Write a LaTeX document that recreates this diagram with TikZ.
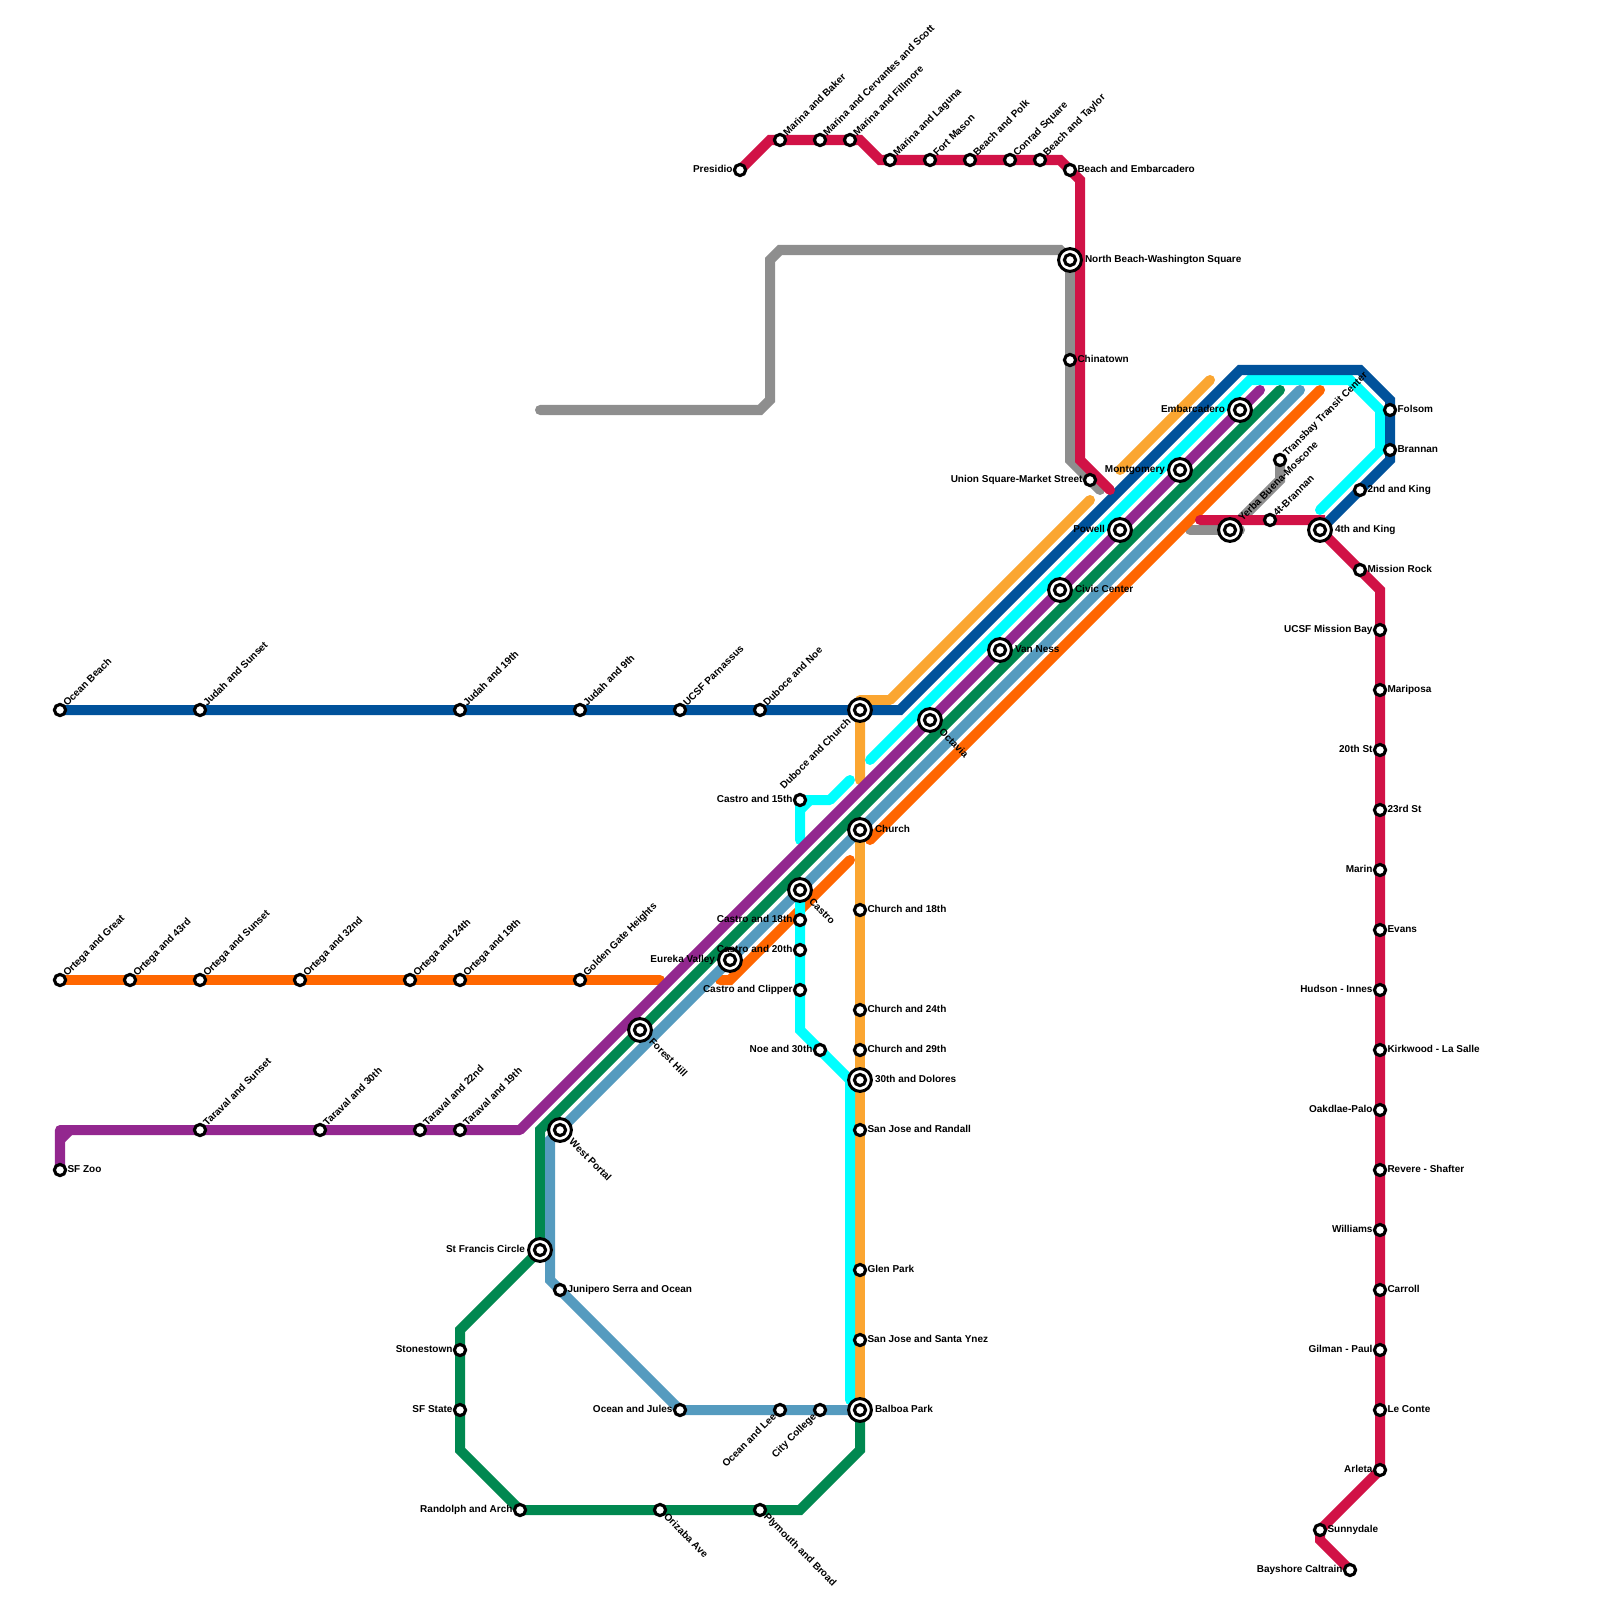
\documentclass[tikz,border=0pt]{standalone}
\usepackage{fontspec}
\setmainfont{Liberation Sans}
\usetikzlibrary{backgrounds}

\definecolor{linegrey}{RGB}{142,142,142}
\definecolor{lineorange}{RGB}{255,102,0}
\definecolor{lineamber}{RGB}{251,166,49}
\definecolor{linecyan}{RGB}{0,255,255}
\definecolor{linepurple}{RGB}{147,39,143}
\definecolor{lineblue}{RGB}{0,82,155}
\definecolor{linegreen}{RGB}{0,136,80}
\definecolor{linesky}{RGB}{85,155,191}
\definecolor{linered}{RGB}{209,18,70}

\begin{document}
\begin{tikzpicture}[x=0.01cm,y=-0.01cm,
    mline/.style={line width=0.1cm,line cap=round},
    stop/.style={circle,draw=black,fill=white,line width=0.031cm,minimum size=0.112cm,inner sep=0pt},
    bigstop/.style={circle,draw=black,fill=white,line width=0.03cm,minimum size=0.228cm,inner sep=0pt},
    lbl/.style={font=\fontsize{2.845}{3.4}\selectfont\bfseries,text height=2.1pt,text depth=0.5pt,inner ysep=0pt,inner xsep=0.075cm,outer sep=0pt},
    biglbl/.style={lbl,inner xsep=0.15cm},
    east/.style={anchor=west},
    west/.style={anchor=east},
    ne/.style={anchor=west,rotate=45},
    sw/.style={anchor=east,rotate=45},
    se/.style={anchor=west,rotate=-45}]
    \useasboundingbox (0,0) rectangle (1600,1600);

    % interchange stations
    \foreach \nm/\px/\py/\txt in {nbw/1070/260/North Beach-Washington Square,chu/860/830/Church,dol/860/1080/30th and Dolores,bal/860/1410/Balboa Park,fk/1320/530/4th and King,civ/1060/590/Civic Center,van/1000/650/Van Ness} {
        \node[bigstop] (\nm) at (\px,\py) {};
        \node[stop] (\nm c) at (\nm) {};
        \node[biglbl,east] (\nm l) at (\nm) {\txt};
    }
    \foreach \nm/\px/\py/\txt in {stf/540/1250/St Francis Circle,eur/730/960/Eureka Valley,mon/1180/470/Montgomery,emb/1240/410/Embarcadero,pow/1120/530/Powell} {
        \node[bigstop] (\nm) at (\px,\py) {};
        \node[stop] (\nm c) at (\nm) {};
        \node[biglbl,west] (\nm l) at (\nm) {\txt};
    }
    \foreach \nm/\px/\py/\txt in {oct/930/720/Octavia,cas/800/890/Castro,wpo/560/1130/West Portal,fhl/640/1030/Forest Hill} {
        \node[bigstop] (\nm) at (\px,\py) {};
        \node[stop] (\nm c) at (\nm) {};
        \node[biglbl,se] (\nm l) at (\nm) {\txt};
    }
    \node[bigstop] (dch) at (860,710) {};
    \node[stop] (dch c) at (dch) {};
    \node[biglbl,sw] (dch l) at (dch) {Duboce and Church};
    \node[bigstop] (ybm) at (1230,530) {};
    \node[stop] (ybm c) at (ybm) {};
    \node[biglbl,ne] (ybm l) at (ybm) {Yerba Buena-Moscone};

    % small stops, text to the right
    \foreach \nm/\px/\py/\txt in {bem/1070/170/Beach and Embarcadero,cht/1070/360/Chinatown,fol/1390/410/Folsom,bra/1390/450/Brannan,ndk/1360/490/2nd and King,mir/1360/570/Mission Rock,mar/1380/690/Mariposa,tts/1380/810/23rd St,eva/1380/930/Evans,kls/1380/1050/Kirkwood - La Salle,rsh/1380/1170/Revere - Shafter,car/1380/1290/Carroll,lec/1380/1410/Le Conte,sun/1320/1530/Sunnydale,c18/860/910/Church and 18th,c24/860/1010/Church and 24th,c29/860/1050/Church and 29th,sjr/860/1130/San Jose and Randall,glp/860/1270/Glen Park,sjy/860/1340/San Jose and Santa Ynez,jso/560/1290/Junipero Serra and Ocean,zoo/60/1170/SF Zoo} {
        \node[stop] (\nm) at (\px,\py) {};
        \node[lbl,east] (\nm l) at (\nm) {\txt};
    }
    % small stops, text to the left
    \foreach \nm/\px/\py/\txt in {pre/740/170/Presidio,usq/1090/480/Union Square-Market Street,umb/1380/630/UCSF Mission Bay,tst/1380/750/20th St,mrn/1380/870/Marin,hin/1380/990/Hudson - Innes,oak/1380/1110/Oakdlae-Palo,wil/1380/1230/Williams,gip/1380/1350/Gilman - Paul,arl/1380/1470/Arleta,bay/1350/1570/Bayshore Caltrain,k15/800/800/Castro and 15th,k18/800/920/Castro and 18th,k20/800/950/Castro and 20th,kcl/800/990/Castro and Clipper,noe/820/1050/Noe and 30th,sto/460/1350/Stonestown,sfs/460/1410/SF State,ran/520/1510/Randolph and Arch,ojl/680/1410/Ocean and Jules} {
        \node[stop] (\nm) at (\px,\py) {};
        \node[lbl,west] (\nm l) at (\nm) {\txt};
    }
    % small stops, text going up
    \foreach \nm/\px/\py/\txt in {obe/60/710/Ocean Beach,jsu/200/710/Judah and Sunset,j19/460/710/Judah and 19th,j9/580/710/Judah and 9th,ucp/680/710/UCSF Parnassus,dno/760/710/Duboce and Noe,ogr/60/980/Ortega and Great,o43/130/980/Ortega and 43rd,osu/200/980/Ortega and Sunset,o32/300/980/Ortega and 32nd,o24/410/980/Ortega and 24th,o19/460/980/Ortega and 19th,ggh/580/980/Golden Gate Heights,tsu/200/1130/Taraval and Sunset,t30/320/1130/Taraval and 30th,t22/420/1130/Taraval and 22nd,t19/460/1130/Taraval and 19th,mba/780/140/Marina and Baker,mcs/820/140/Marina and Cervantes and Scott,mfi/850/140/Marina and Fillmore,mla/890/160/Marina and Laguna,fma/930/160/Fort Mason,bpo/970/160/Beach and Polk,cos/1010/160/Conrad Square,bta/1040/160/Beach and Taylor,tbt/1280/460/Transbay Transit Center,fbr/1270/520/4t-Brannan} {
        \node[stop] (\nm) at (\px,\py) {};
        \node[lbl,ne] (\nm l) at (\nm) {\txt};
    }
    % the last few
    \foreach \nm/\px/\py/\txt in {ole/780/1410/Ocean and Lee,cco/820/1410/City College} {
        \node[stop] (\nm) at (\px,\py) {};
        \node[lbl,sw] (\nm l) at (\nm) {\txt};
    }
    \foreach \nm/\px/\py/\txt in {ori/660/1510/Orizaba Ave,plb/760/1510/Plymouth and Broad} {
        \node[stop] (\nm) at (\px,\py) {};
        \node[lbl,se] (\nm l) at (\nm) {\txt};
    }

    % bends
    \coordinate (e1) at (540,410);   \coordinate (e2) at (760,410);   \coordinate (e3) at (770,400);
    \coordinate (e4) at (770,260);   \coordinate (e5) at (780,250);   \coordinate (e6) at (1060,250);
    \coordinate (e7) at (1070,460);  \coordinate (e8) at (1100,490);  \coordinate (e9) at (1190,530);
    \coordinate (e10) at (1240,530); \coordinate (e11) at (1280,480); \coordinate (e12) at (1230,530);
    \coordinate (o1) at (660,980);   \coordinate (o2) at (720,980);   \coordinate (o3) at (730,980);
    \coordinate (o4) at (850,860);   \coordinate (o5) at (870,840);   \coordinate (o6) at (1320,390);
    \coordinate (y1) at (1210,380);  \coordinate (y2) at (1120,470);  \coordinate (y3) at (1090,500);
    \coordinate (y4) at (890,700);   \coordinate (y5) at (860,700);   \coordinate (y6) at (860,780);
    \coordinate (c1) at (870,760);   \coordinate (c2) at (1250,380);  \coordinate (c3) at (1350,380);
    \coordinate (c4) at (1380,410);  \coordinate (c5) at (1380,450);  \coordinate (c6) at (1320,510);
    \coordinate (c7) at (800,840);   \coordinate (c8) at (830,800);   \coordinate (c9) at (850,780);
    \coordinate (c10) at (800,810);  \coordinate (c11) at (810,800);  \coordinate (c12) at (800,1030);
    \coordinate (c13) at (850,1080); \coordinate (c14) at (850,1400);
    \coordinate (p1) at (1260,390);  \coordinate (p2) at (520,1130);  \coordinate (p3) at (60,1130);
    \coordinate (p4) at (60,1140);   \coordinate (p5) at (70,1130);
    \coordinate (b1) at (900,710);   \coordinate (b2) at (1240,370);  \coordinate (b3) at (1360,370);
    \coordinate (b4) at (1390,400);  \coordinate (b5) at (1390,460);
    \coordinate (g1) at (1280,390);  \coordinate (g2) at (540,1130);  \coordinate (g3) at (460,1330);
    \coordinate (g4) at (460,1450);  \coordinate (g5) at (800,1510);  \coordinate (g6) at (860,1450);
    \coordinate (k1) at (1300,390);  \coordinate (k2) at (550,1140);  \coordinate (k3) at (550,1280);
    \coordinate (r1) at (770,140);   \coordinate (r2) at (860,140);   \coordinate (r3) at (880,160);
    \coordinate (r4) at (1060,160);  \coordinate (r5) at (1080,180);  \coordinate (r6) at (1080,460);
    \coordinate (r7) at (1110,490);  \coordinate (r8) at (1200,520);  \coordinate (r9) at (1320,520);
    \coordinate (r10) at (1380,590); \coordinate (r11) at (1320,1540);

    % the lines, under the stops
    \begin{scope}[on background layer]
        \draw[mline,linegrey] (e1) -- (e2) -- (e3) -- (e4) -- (e5) -- (e6) -- (nbw.center) -- (e7) -- (e8);
        \draw[mline,linegrey] (e9) -- (e10);
        \draw[mline,linegrey] (tbt.center) -- (e11) -- (e12);

        \draw[mline,lineorange] (ogr.center) -- (o1);
        \draw[mline,lineorange] (o2) -- (o3) -- (o4);
        \draw[mline,lineorange] (o5) -- (o6);

        \draw[mline,lineamber] (y1) -- (y2);
        \draw[mline,lineamber,line join=round] (y3) -- (y4) -- (y5) -- (y6);
        \draw[mline,lineamber] (chu.center) -- (bal.center);

        \draw[mline,linecyan] (c1) -- (c2) -- (c3) -- (c4) -- (c5) -- (c6);
        \draw[mline,linecyan,line join=round] (c7) -- (k15.center) -- (c8) -- (c9);
        \draw[mline,linecyan] (c10) -- (c11);
        \draw[mline,linecyan] (cas.center) -- (c12) -- (noe.center) -- (c13) -- (c14);

        \draw[mline,linepurple,line join=round] (p1) -- (p2) -- (p3) -- (zoo.center);
        \draw[mline,linepurple] (p4) -- (p5);

        \draw[mline,lineblue] (obe.center) -- (b1) -- (b2) -- (b3) -- (b4) -- (b5) -- (fk.center);

        \draw[mline,linegreen] (g1) -- (g2) -- (stf.center) -- (g3) -- (g4) -- (ran.center) -- (g5) -- (g6) -- (bal.center);

        \draw[mline,linesky] (k1) -- (k2) -- (k3) -- (ojl.center) -- (bal.center);

        \draw[mline,linered] (pre.center) -- (r1) -- (r2) -- (r3) -- (r4) -- (r5) -- (r6) -- (r7);
        \draw[mline,linered] (r8) -- (r9) -- (fk.center) -- (r10) -- (arl.center) -- (sun.center) -- (r11) -- (bay.center);
    \end{scope}
\end{tikzpicture}
\end{document}
